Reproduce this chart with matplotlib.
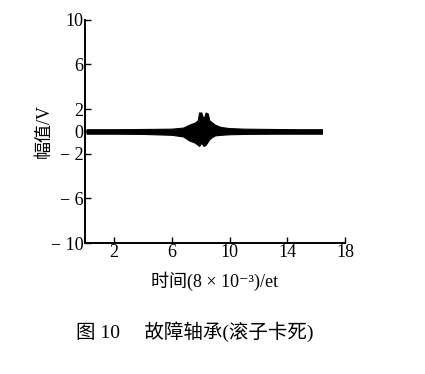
import matplotlib.pyplot as plt

plt.rcParams['font.family'] = ['Liberation Serif', 'Noto Sans CJK SC', 'DejaVu Serif']

# envelope of the vibration signal
t = [0.1, 2, 4, 6, 6.8, 7.2, 7.6, 7.8, 7.9, 8.05, 8.2, 8.35, 8.5, 8.6,
     8.8, 9.0, 9.4, 10, 11, 13, 15, 16.4]
upper = [0.2, 0.2, 0.22, 0.25, 0.35, 0.6, 0.8, 1.0, 1.7, 1.7, 1.1, 1.7,
         1.6, 1.0, 0.8, 0.6, 0.4, 0.3, 0.25, 0.22, 0.2, 0.2]
lower = [-0.2, -0.2, -0.22, -0.3, -0.45, -0.8, -1.0, -1.2, -1.3, -1.0,
         -1.3, -1.2, -0.9, -0.7, -0.5, -0.35, -0.3, -0.25, -0.22, -0.2,
         -0.2, -0.2]

yticks = [-10, -6, -2, 0, 2, 6, 10]
ytick_labels = ['− 10', '− 6', '− 2', '0', '2', '6', '10']
xticks = [2, 6, 10, 14, 18]

fig = plt.figure(figsize=(4.25, 3.74), dpi=100)
ax = fig.add_axes([0.2, 0.35, 0.612, 0.597])

ax.fill_between(t, lower, upper, color='black', linewidth=0.8)

ax.set_xlim(0, 18)
ax.set_ylim(-10, 10)
ax.set_xticks(xticks)
ax.set_yticks(yticks)
ax.set_yticklabels(ytick_labels)
ax.tick_params(direction='in', length=4, width=1, labelsize=13, pad=1)
for s in ['top', 'right']:
    ax.spines[s].set_visible(False)
for s in ['left', 'bottom']:
    ax.spines[s].set_linewidth(1.4)

ax.set_ylabel('幅值/V', fontsize=13)
ax.yaxis.set_label_coords(-0.125, 0.5)
ax.set_xlabel('时间(8 × 10⁻³)/et', fontsize=13, labelpad=7)

fig.text(195 / 425, 1 - 332 / 374, '图 10     故障轴承(滚子卡死)',
         ha='center', va='center', fontsize=14)

fig.savefig('out.png', dpi=100)
